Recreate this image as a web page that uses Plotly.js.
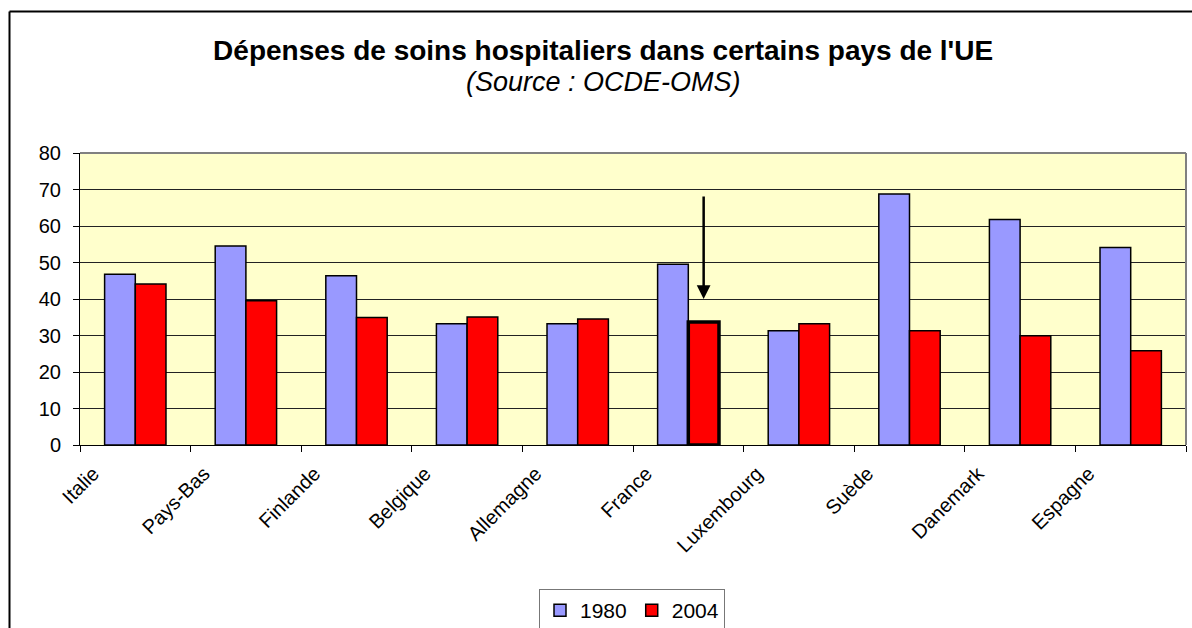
<!DOCTYPE html>
<html>
<head>
<meta charset="utf-8">
<script src="https://cdn.plot.ly/plotly-3.0.1.min.js"></script>
<style>
  html, body { margin: 0; padding: 0; background: #fff; }
  #chart { width: 1192px; height: 628px; }
</style>
</head>
<body>
<div id="chart"></div>
<script>
const categories = ["Italie", "Pays-Bas", "Finlande", "Belgique", "Allemagne", "France", "Luxembourg", "Suède", "Danemark", "Espagne"];
const values1980 = [46.8, 54.5, 46.4, 33.2, 33.2, 49.5, 31.3, 68.8, 61.8, 54.1];
const values2004 = [44.1, 39.5, 34.9, 35.1, 34.5, 33.7, 33.2, 31.3, 29.9, 25.8];
const seriesNames = ["1980", "2004"];
const yTicks = [0, 10, 20, 30, 40, 50, 60, 70, 80];
const highlighted = "France";
const arrowFrom = 68.5;
const arrowTo = 40;

const FONT = "Liberation Sans, Arial, sans-serif";
const BARGAP = 0.445;
const hiIdx = categories.indexOf(highlighted);

const trace1980 = {
  type: "bar", name: seriesNames[0], x: categories, y: values1980,
  marker: { color: "#9999FF", line: { color: "#000", width: 1.5 } },
  hoverinfo: "x+y+name"
};
const trace2004 = {
  type: "bar", name: seriesNames[1], x: categories, y: values2004,
  marker: { color: "#FF0000", line: { color: "#000",
    width: categories.map((c, i) => i === hiIdx ? 3.5 : 1.5) } },
  hoverinfo: "x+y+name"
};

const arrowX = hiIdx + (1 - BARGAP) / 4;

const layout = {
  width: 1192, height: 628,
  margin: { l: 80, r: 6, t: 153, b: 183, pad: 0 },
  paper_bgcolor: "#fff",
  plot_bgcolor: "#FFFFCC",
  font: { family: FONT, color: "#000", size: 20 },
  barmode: "group",
  bargap: BARGAP,
  bargroupgap: 0,
  title: {
    text: "<b>Dépenses de soins hospitaliers dans certains pays de l'UE</b>",
    font: { family: FONT, size: 28, color: "#000" },
    xref: "container", x: 0.506, xanchor: "center",
    yref: "container", y: 1 - 50 / 628, yanchor: "middle"
  },
  xaxis: {
    type: "category",
    automargin: false,
    showline: true, linecolor: "#000", linewidth: 1,
    ticks: "outside", ticklen: 6, tickcolor: "#000", tickwidth: 1,
    tickson: "boundaries",
    tickangle: -45,
    ticklabelshift: -42,
    ticklabelstandoff: 8,
    tickfont: { family: FONT, size: 20, color: "#000" },
    showgrid: false, zeroline: false, fixedrange: true
  },
  yaxis: {
    automargin: false,
    range: [0, 80],
    tickvals: yTicks,
    showline: true, linecolor: "#000", linewidth: 1,
    ticks: "outside", ticklen: 6, tickcolor: "#000", tickwidth: 1,
    ticklabelstandoff: 8,
    tickfont: { family: FONT, size: 20, color: "#000" },
    showgrid: true, gridcolor: "#222", gridwidth: 1,
    zeroline: false, fixedrange: true
  },
  showlegend: true,
  legend: {
    orientation: "h",
    xref: "container", x: 632 / 1192, xanchor: "center",
    yref: "container", y: 1 - 589 / 628, yanchor: "top",
    bgcolor: "#fff", bordercolor: "#777", borderwidth: 1,
    font: { family: FONT, size: 21, color: "#000" },
    traceorder: "normal",
    itemclick: false, itemdoubleclick: false
  },
  annotations: [
    {
      text: "<i>(Source : OCDE-OMS)</i>",
      xref: "paper", yref: "paper",
      x: (603 - 80) / 1106, y: (445 - 82) / 292,
      xanchor: "center", yanchor: "middle",
      showarrow: false,
      font: { family: FONT, size: 27, color: "#000" }
    },
    {
      text: "",
      xref: "x", yref: "y", axref: "x", ayref: "y",
      x: arrowX, y: arrowTo, ax: arrowX, ay: arrowFrom,
      showarrow: true, arrowhead: 2, arrowsize: 1.1, arrowwidth: 2.5,
      arrowcolor: "#000", standoff: 0
    }
  ],
  shapes: [
    { type: "line", xref: "paper", yref: "paper", x0: 0, x1: 1, y0: 1, y1: 1,
      line: { color: "#808080", width: 2 } },
    { type: "line", xref: "paper", yref: "paper", x0: 1, x1: 1, y0: 0, y1: 1,
      line: { color: "#808080", width: 2 } },
    { type: "line", xref: "paper", yref: "paper",
      x0: (9.5 - 80) / 1106, x1: (1200 - 80) / 1106,
      y0: (445 - 11.5) / 292, y1: (445 - 11.5) / 292,
      line: { color: "#000", width: 2 } },
    { type: "line", xref: "paper", yref: "paper",
      x0: (9.5 - 80) / 1106, x1: (9.5 - 80) / 1106,
      y0: (445 - 11.5) / 292, y1: (445 - 640) / 292,
      line: { color: "#000", width: 2 } }
  ]
};

Plotly.newPlot("chart", [trace1980, trace2004], layout, { displayModeBar: false, staticPlot: true });
</script>
</body>
</html>
